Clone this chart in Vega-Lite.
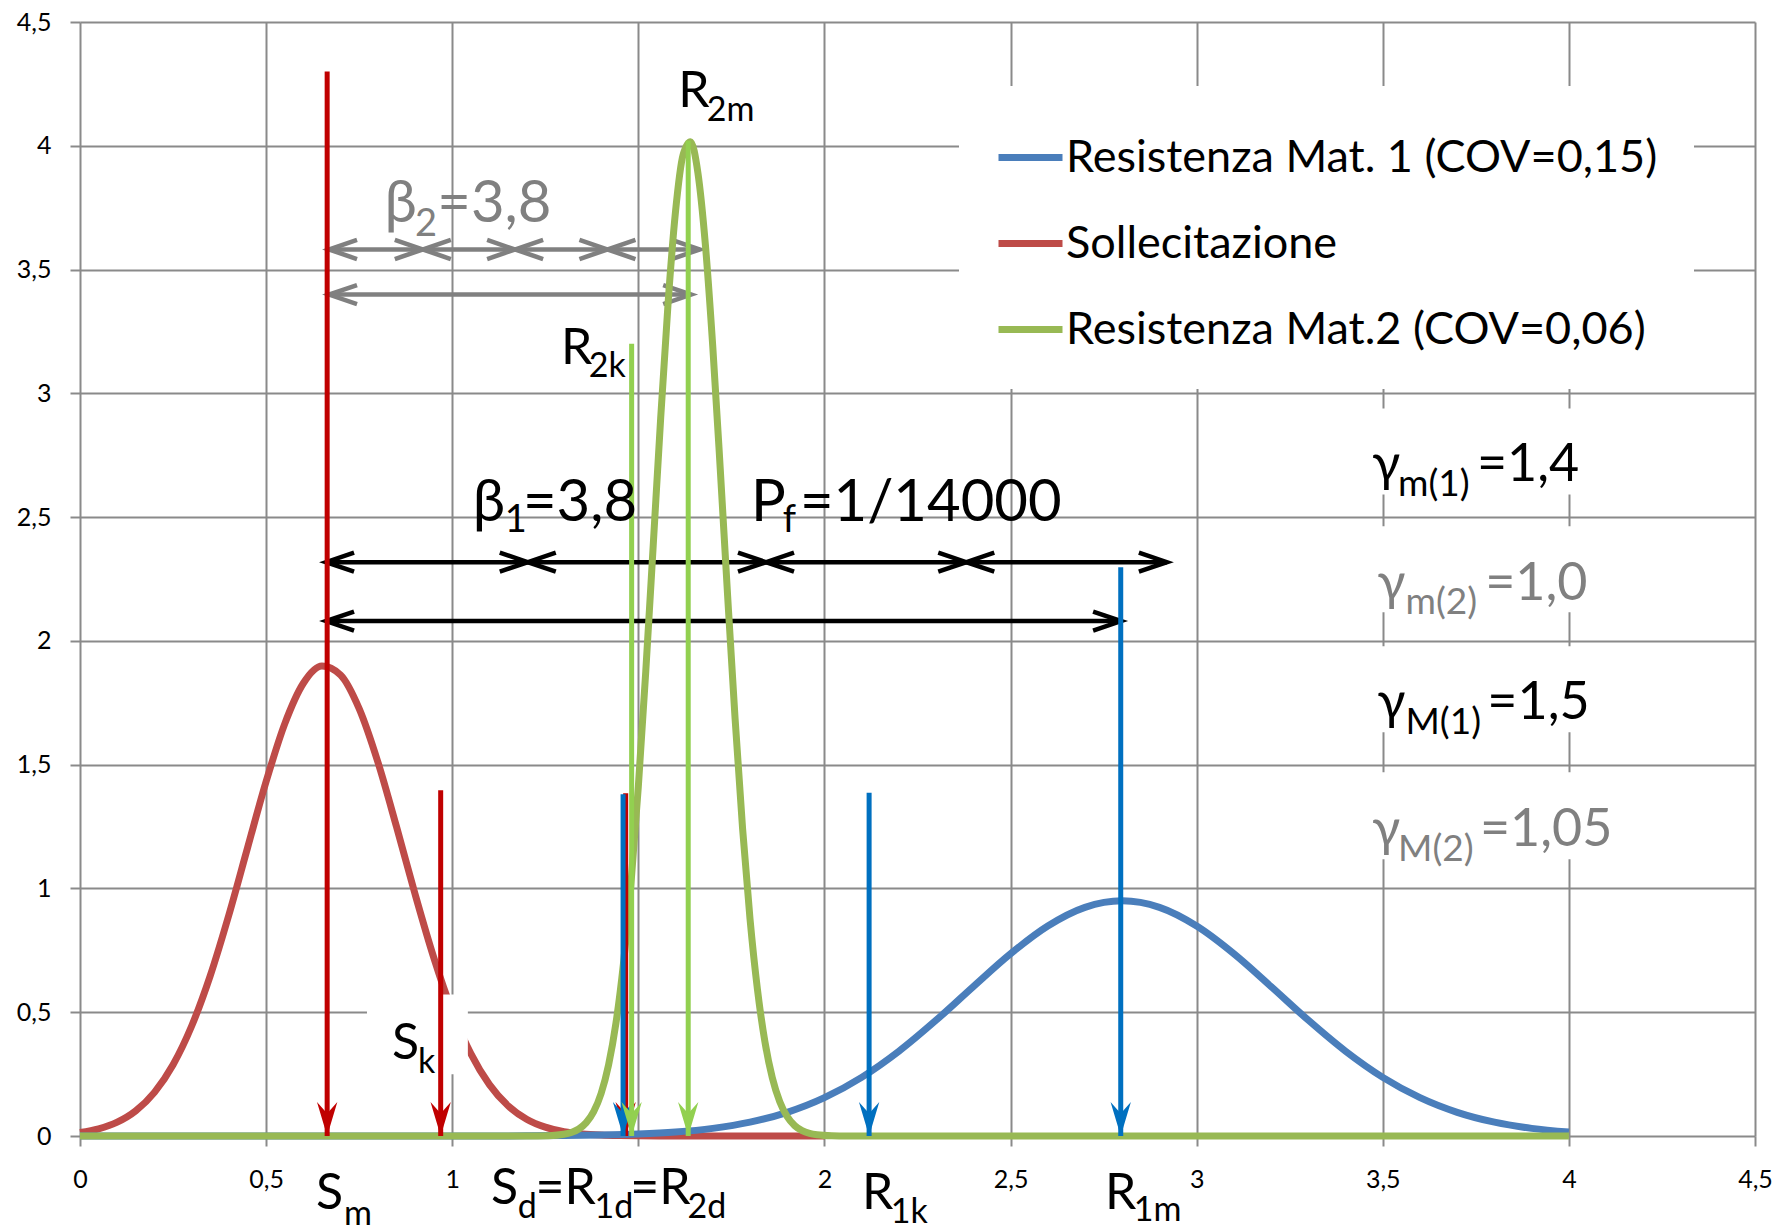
{
  "$schema": "https://vega.github.io/schema/vega-lite/v6.json",
  "width": 1675,
  "height": 1114,
  "autosize": {"type": "none"},
  "padding": {"left": 80, "top": 22, "right": 22, "bottom": 95},
  "background": "white",
  "config": {
    "view": {"stroke": null},
    "font": "Lato, 'Noto Sans', sans-serif",
    "axis": {
      "grid": true, "gridColor": "#8A8A8A", "gridWidth": 2,
      "domain": false, "ticks": true, "tickSize": 10, "tickWidth": 2, "tickColor": "#8A8A8A",
      "labelFont": "Lato", "labelFontSize": 25, "labelColor": "black",
      "labelFlush": false, "labelOverlap": false, "titleOpacity": 0
    },
    "axisX": {"labelPadding": 21},
    "axisY": {"labelPadding": 19}
  },
  "datasets": {
    "curves": [
      {"serie": "Sollecitazione", "x": 0, "y": 0.0140},
      {"serie": "Sollecitazione", "x": 0.05, "y": 0.0287},
      {"serie": "Sollecitazione", "x": 0.1, "y": 0.0557},
      {"serie": "Sollecitazione", "x": 0.15, "y": 0.1019},
      {"serie": "Sollecitazione", "x": 0.2, "y": 0.1762},
      {"serie": "Sollecitazione", "x": 0.25, "y": 0.2879},
      {"serie": "Sollecitazione", "x": 0.3, "y": 0.4443},
      {"serie": "Sollecitazione", "x": 0.35, "y": 0.6479},
      {"serie": "Sollecitazione", "x": 0.4, "y": 0.8932},
      {"serie": "Sollecitazione", "x": 0.45, "y": 1.1634},
      {"serie": "Sollecitazione", "x": 0.5, "y": 1.4317},
      {"serie": "Sollecitazione", "x": 0.55, "y": 1.6648},
      {"serie": "Sollecitazione", "x": 0.6, "y": 1.8289},
      {"serie": "Sollecitazione", "x": 0.65, "y": 1.8987},
      {"serie": "Sollecitazione", "x": 0.7, "y": 1.8624},
      {"serie": "Sollecitazione", "x": 0.75, "y": 1.7262},
      {"serie": "Sollecitazione", "x": 0.8, "y": 1.5118},
      {"serie": "Sollecitazione", "x": 0.85, "y": 1.2510},
      {"serie": "Sollecitazione", "x": 0.9, "y": 0.9781},
      {"serie": "Sollecitazione", "x": 0.95, "y": 0.7226},
      {"serie": "Sollecitazione", "x": 1.0, "y": 0.5044},
      {"serie": "Sollecitazione", "x": 1.05, "y": 0.3327},
      {"serie": "Sollecitazione", "x": 1.1, "y": 0.2075},
      {"serie": "Sollecitazione", "x": 1.15, "y": 0.1221},
      {"serie": "Sollecitazione", "x": 1.2, "y": 0.0680},
      {"serie": "Sollecitazione", "x": 1.25, "y": 0.0357},
      {"serie": "Sollecitazione", "x": 1.3, "y": 0.0178},
      {"serie": "Sollecitazione", "x": 1.35, "y": 0.0083},
      {"serie": "Sollecitazione", "x": 1.4, "y": 0.0037},
      {"serie": "Sollecitazione", "x": 1.45, "y": 0.0016},
      {"serie": "Sollecitazione", "x": 1.5, "y": 0.0006},
      {"serie": "Sollecitazione", "x": 1.6, "y": 0.0001},
      {"serie": "Sollecitazione", "x": 2.0, "y": 0},
      {"serie": "Resistenza Mat. 1 (COV=0,15)", "x": 0, "y": 0},
      {"serie": "Resistenza Mat. 1 (COV=0,15)", "x": 1.0, "y": 0.0001},
      {"serie": "Resistenza Mat. 1 (COV=0,15)", "x": 1.1, "y": 0.0003},
      {"serie": "Resistenza Mat. 1 (COV=0,15)", "x": 1.2, "y": 0.0007},
      {"serie": "Resistenza Mat. 1 (COV=0,15)", "x": 1.3, "y": 0.0016},
      {"serie": "Resistenza Mat. 1 (COV=0,15)", "x": 1.4, "y": 0.0037},
      {"serie": "Resistenza Mat. 1 (COV=0,15)", "x": 1.5, "y": 0.0079},
      {"serie": "Resistenza Mat. 1 (COV=0,15)", "x": 1.6, "y": 0.0160},
      {"serie": "Resistenza Mat. 1 (COV=0,15)", "x": 1.7, "y": 0.0308},
      {"serie": "Resistenza Mat. 1 (COV=0,15)", "x": 1.8, "y": 0.0558},
      {"serie": "Resistenza Mat. 1 (COV=0,15)", "x": 1.9, "y": 0.0957},
      {"serie": "Resistenza Mat. 1 (COV=0,15)", "x": 2.0, "y": 0.1549},
      {"serie": "Resistenza Mat. 1 (COV=0,15)", "x": 2.1, "y": 0.2369},
      {"serie": "Resistenza Mat. 1 (COV=0,15)", "x": 2.2, "y": 0.3424},
      {"serie": "Resistenza Mat. 1 (COV=0,15)", "x": 2.3, "y": 0.4677},
      {"serie": "Resistenza Mat. 1 (COV=0,15)", "x": 2.4, "y": 0.6036},
      {"serie": "Resistenza Mat. 1 (COV=0,15)", "x": 2.5, "y": 0.7361},
      {"serie": "Resistenza Mat. 1 (COV=0,15)", "x": 2.6, "y": 0.8481},
      {"serie": "Resistenza Mat. 1 (COV=0,15)", "x": 2.7, "y": 0.9235},
      {"serie": "Resistenza Mat. 1 (COV=0,15)", "x": 2.8, "y": 0.9499},
      {"serie": "Resistenza Mat. 1 (COV=0,15)", "x": 2.9, "y": 0.9235},
      {"serie": "Resistenza Mat. 1 (COV=0,15)", "x": 3.0, "y": 0.8481},
      {"serie": "Resistenza Mat. 1 (COV=0,15)", "x": 3.1, "y": 0.7361},
      {"serie": "Resistenza Mat. 1 (COV=0,15)", "x": 3.2, "y": 0.6036},
      {"serie": "Resistenza Mat. 1 (COV=0,15)", "x": 3.3, "y": 0.4677},
      {"serie": "Resistenza Mat. 1 (COV=0,15)", "x": 3.4, "y": 0.3424},
      {"serie": "Resistenza Mat. 1 (COV=0,15)", "x": 3.5, "y": 0.2369},
      {"serie": "Resistenza Mat. 1 (COV=0,15)", "x": 3.6, "y": 0.1549},
      {"serie": "Resistenza Mat. 1 (COV=0,15)", "x": 3.7, "y": 0.0957},
      {"serie": "Resistenza Mat. 1 (COV=0,15)", "x": 3.8, "y": 0.0558},
      {"serie": "Resistenza Mat. 1 (COV=0,15)", "x": 3.9, "y": 0.0308},
      {"serie": "Resistenza Mat. 1 (COV=0,15)", "x": 4.0, "y": 0.0160},
      {"serie": "Resistenza Mat.2 (COV=0,06)", "x": 0, "y": 0},
      {"serie": "Resistenza Mat.2 (COV=0,06)", "x": 1.2, "y": 0.0001},
      {"serie": "Resistenza Mat.2 (COV=0,06)", "x": 1.26, "y": 0.0013},
      {"serie": "Resistenza Mat.2 (COV=0,06)", "x": 1.3, "y": 0.0068},
      {"serie": "Resistenza Mat.2 (COV=0,06)", "x": 1.32, "y": 0.0141},
      {"serie": "Resistenza Mat.2 (COV=0,06)", "x": 1.34, "y": 0.0283},
      {"serie": "Resistenza Mat.2 (COV=0,06)", "x": 1.36, "y": 0.0540},
      {"serie": "Resistenza Mat.2 (COV=0,06)", "x": 1.38, "y": 0.0986},
      {"serie": "Resistenza Mat.2 (COV=0,06)", "x": 1.4, "y": 0.1719},
      {"serie": "Resistenza Mat.2 (COV=0,06)", "x": 1.42, "y": 0.2869},
      {"serie": "Resistenza Mat.2 (COV=0,06)", "x": 1.44, "y": 0.4571},
      {"serie": "Resistenza Mat.2 (COV=0,06)", "x": 1.46, "y": 0.6967},
      {"serie": "Resistenza Mat.2 (COV=0,06)", "x": 1.48, "y": 1.0143},
      {"serie": "Resistenza Mat.2 (COV=0,06)", "x": 1.5, "y": 1.4114},
      {"serie": "Resistenza Mat.2 (COV=0,06)", "x": 1.52, "y": 1.8773},
      {"serie": "Resistenza Mat.2 (COV=0,06)", "x": 1.54, "y": 2.3863},
      {"serie": "Resistenza Mat.2 (COV=0,06)", "x": 1.56, "y": 2.8992},
      {"serie": "Resistenza Mat.2 (COV=0,06)", "x": 1.58, "y": 3.3663},
      {"serie": "Resistenza Mat.2 (COV=0,06)", "x": 1.6, "y": 3.7358},
      {"serie": "Resistenza Mat.2 (COV=0,06)", "x": 1.62, "y": 3.9621},
      {"serie": "Resistenza Mat.2 (COV=0,06)", "x": 1.64, "y": 4.0164},
      {"serie": "Resistenza Mat.2 (COV=0,06)", "x": 1.66, "y": 3.8910},
      {"serie": "Resistenza Mat.2 (COV=0,06)", "x": 1.68, "y": 3.6027},
      {"serie": "Resistenza Mat.2 (COV=0,06)", "x": 1.7, "y": 3.1883},
      {"serie": "Resistenza Mat.2 (COV=0,06)", "x": 1.72, "y": 2.6966},
      {"serie": "Resistenza Mat.2 (COV=0,06)", "x": 1.74, "y": 2.1796},
      {"serie": "Resistenza Mat.2 (COV=0,06)", "x": 1.76, "y": 1.6844},
      {"serie": "Resistenza Mat.2 (COV=0,06)", "x": 1.78, "y": 1.2434},
      {"serie": "Resistenza Mat.2 (COV=0,06)", "x": 1.8, "y": 0.8776},
      {"serie": "Resistenza Mat.2 (COV=0,06)", "x": 1.82, "y": 0.5921},
      {"serie": "Resistenza Mat.2 (COV=0,06)", "x": 1.84, "y": 0.3815},
      {"serie": "Resistenza Mat.2 (COV=0,06)", "x": 1.86, "y": 0.2351},
      {"serie": "Resistenza Mat.2 (COV=0,06)", "x": 1.88, "y": 0.1384},
      {"serie": "Resistenza Mat.2 (COV=0,06)", "x": 1.9, "y": 0.0779},
      {"serie": "Resistenza Mat.2 (COV=0,06)", "x": 1.92, "y": 0.0419},
      {"serie": "Resistenza Mat.2 (COV=0,06)", "x": 1.94, "y": 0.0215},
      {"serie": "Resistenza Mat.2 (COV=0,06)", "x": 1.96, "y": 0.0106},
      {"serie": "Resistenza Mat.2 (COV=0,06)", "x": 1.98, "y": 0.0050},
      {"serie": "Resistenza Mat.2 (COV=0,06)", "x": 2.02, "y": 0.0009},
      {"serie": "Resistenza Mat.2 (COV=0,06)", "x": 2.06, "y": 0.0001},
      {"serie": "Resistenza Mat.2 (COV=0,06)", "x": 4.0, "y": 0}
    ],
    "vlines": [
      {"name": "Sm", "serie": "S", "x": 0.664, "y": 4.3},
      {"name": "Sk", "serie": "S", "x": 0.969, "y": 1.397},
      {"name": "Sd", "serie": "S", "x": 1.466, "y": 1.385},
      {"name": "R1d", "serie": "R1", "x": 1.459, "y": 1.38},
      {"name": "R1k", "serie": "R1", "x": 2.12, "y": 1.387},
      {"name": "R1m", "serie": "R1", "x": 2.796, "y": 2.297},
      {"name": "R2k", "serie": "R2", "x": 1.482, "y": 3.2},
      {"name": "R2m", "serie": "R2", "x": 1.634, "y": 4.02}
    ],
    "harrows": [
      {"beta": "1", "x": 0.661, "x2": 1.203, "y": 2.318},
      {"beta": "1", "x": 1.203, "x2": 1.843, "y": 2.318},
      {"beta": "1", "x": 1.843, "x2": 2.381, "y": 2.318},
      {"beta": "1", "x": 2.381, "x2": 2.92, "y": 2.318},
      {"beta": "1", "x": 0.661, "x2": 2.797, "y": 2.08},
      {"beta": "2", "x": 0.669, "x2": 0.921, "y": 3.581},
      {"beta": "2", "x": 0.921, "x2": 1.169, "y": 3.581},
      {"beta": "2", "x": 1.169, "x2": 1.417, "y": 3.581},
      {"beta": "2", "x": 1.417, "x2": 1.665, "y": 3.581},
      {"beta": "2", "x": 0.669, "x2": 1.642, "y": 3.399}
    ],
    "boxes": [
      {"x": 0.771, "x2": 1.042, "y": 0.249, "y2": 0.572},
      {"x": 3.43, "x2": 4.17, "y": 2.591, "y2": 2.939},
      {"x": 3.43, "x2": 4.17, "y": 2.116, "y2": 2.463},
      {"x": 3.43, "x2": 4.17, "y": 1.631, "y2": 1.978},
      {"x": 3.43, "x2": 4.17, "y": 1.118, "y2": 1.469}
    ],
    "labels": [
      {"kind": "lab", "grp": "main", "t": "R", "x": 1.607, "y": 4.158},
      {"kind": "lab", "grp": "main", "t": "R", "x": 1.292, "y": 3.117},
      {"kind": "lab", "grp": "main", "t": "S", "x": 0.838, "y": 0.31},
      {"kind": "lab", "grp": "main", "t": "S", "x": 0.634, "y": -0.296},
      {"kind": "lab", "grp": "main", "t": "S", "x": 1.104, "y": -0.276},
      {"kind": "lab", "grp": "main", "t": "=R", "x": 1.224, "y": -0.276},
      {"kind": "lab", "grp": "main", "t": "=R", "x": 1.478, "y": -0.276},
      {"kind": "lab", "grp": "main", "t": "R", "x": 2.101, "y": -0.296},
      {"kind": "lab", "grp": "main", "t": "R", "x": 2.754, "y": -0.296},
      {"kind": "labsub", "grp": "main", "t": "2m", "x": 1.684, "y": 4.102},
      {"kind": "labsub", "grp": "main", "t": "2k", "x": 1.367, "y": 3.064},
      {"kind": "labsub", "grp": "main", "t": "k", "x": 0.908, "y": 0.253},
      {"kind": "labsub", "grp": "main", "t": "m", "x": 0.709, "y": -0.36},
      {"kind": "labsub", "grp": "main", "t": "d", "x": 1.176, "y": -0.332},
      {"kind": "labsub", "grp": "main", "t": "1d", "x": 1.382, "y": -0.332},
      {"kind": "labsub", "grp": "main", "t": "2d", "x": 1.632, "y": -0.332},
      {"kind": "labsub", "grp": "main", "t": "1k", "x": 2.178, "y": -0.353},
      {"kind": "labsub", "grp": "main", "t": "1m", "x": 2.831, "y": -0.345},
      {"kind": "big", "grp": "mat2", "t": "β", "x": 0.818, "y": 3.694},
      {"kind": "big", "grp": "mat2", "t": "=3,8", "x": 0.96, "y": 3.694},
      {"kind": "big", "grp": "main", "t": "β", "x": 1.055, "y": 2.483},
      {"kind": "big", "grp": "main", "t": "=3,8", "x": 1.19, "y": 2.483},
      {"kind": "big", "grp": "main", "t": "P", "x": 1.803, "y": 2.483},
      {"kind": "big", "grp": "main", "t": "=1/14000", "x": 1.934, "y": 2.483},
      {"kind": "bigsub", "grp": "mat2", "t": "2", "x": 0.9, "y": 3.634},
      {"kind": "bigsub", "grp": "main", "t": "1", "x": 1.141, "y": 2.438},
      {"kind": "bigsub", "grp": "main", "t": "f", "x": 1.888, "y": 2.438},
      {"kind": "gam", "grp": "main", "t": "γ", "x": 3.471, "y": 2.644},
      {"kind": "gam", "grp": "main", "t": "=1,4", "x": 3.753, "y": 2.644},
      {"kind": "gam", "grp": "mat2", "t": "γ", "x": 3.485, "y": 2.167},
      {"kind": "gam", "grp": "mat2", "t": "=1,0", "x": 3.775, "y": 2.167},
      {"kind": "gam", "grp": "main", "t": "γ", "x": 3.485, "y": 1.683},
      {"kind": "gam", "grp": "main", "t": "=1,5", "x": 3.781, "y": 1.683},
      {"kind": "gam", "grp": "mat2", "t": "γ", "x": 3.471, "y": 1.17},
      {"kind": "gam", "grp": "mat2", "t": "=1,05", "x": 3.761, "y": 1.17},
      {"kind": "gamsub", "grp": "main", "t": "m(1)", "x": 3.541, "y": 2.584},
      {"kind": "gamsub", "grp": "mat2", "t": "m(2)", "x": 3.561, "y": 2.107},
      {"kind": "gamsub", "grp": "main", "t": "M(1)", "x": 3.561, "y": 1.623},
      {"kind": "gamsub", "grp": "mat2", "t": "M(2)", "x": 3.541, "y": 1.11}
    ]
  },
  "layer": [
    {
      "data": {"values": [{"x": 0, "y": 0}, {"x": 4.5, "y": 4.5}]},
      "mark": {"type": "point", "opacity": 0},
      "encoding": {
        "x": {
          "field": "x", "type": "quantitative",
          "scale": {"domain": [0, 4.5], "nice": false, "zero": false},
          "axis": {"title": null, "values": [0, 0.5, 1, 1.5, 2, 2.5, 3, 3.5, 4, 4.5], "format": "~g", "labelExpr": "datum.value === 1.5 ? '' : replace(datum.label, '.', ',')"}
        },
        "y": {
          "field": "y", "type": "quantitative",
          "scale": {"domain": [0, 4.5], "nice": false, "zero": false},
          "axis": {"title": null, "values": [0, 0.5, 1, 1.5, 2, 2.5, 3, 3.5, 4, 4.5], "format": "~g", "labelExpr": "replace(datum.label, '.', ',')"}
        }
      }
    },
    {
      "data": {"name": "harrows"},
      "transform": [{"filter": "datum.beta === '1'"}],
      "mark": {"type": "rule", "color": "black", "strokeWidth": 4.5},
      "encoding": {"x": {"field": "x", "type": "quantitative"}, "x2": {"field": "x2"}, "y": {"field": "y", "type": "quantitative"}}
    },
    {
      "data": {"name": "harrows"},
      "transform": [{"filter": "datum.beta === '1'"}],
      "mark": {"type": "point", "shape": "M1,-0.34L0,0L1,0.34", "size": 3136, "filled": false, "color": "black", "strokeWidth": 4.5, "opacity": 1},
      "encoding": {"x": {"field": "x", "type": "quantitative"}, "y": {"field": "y", "type": "quantitative"}}
    },
    {
      "data": {"name": "harrows"},
      "transform": [{"filter": "datum.beta === '1'"}],
      "mark": {"type": "point", "shape": "M-1,-0.34L0,0L-1,0.34", "size": 3136, "filled": false, "color": "black", "strokeWidth": 4.5, "opacity": 1},
      "encoding": {"x": {"field": "x2", "type": "quantitative"}, "y": {"field": "y", "type": "quantitative"}}
    },
    {
      "data": {"name": "harrows"},
      "transform": [{"filter": "datum.beta === '2'"}],
      "mark": {"type": "rule", "color": "#808080", "strokeWidth": 4.5},
      "encoding": {"x": {"field": "x", "type": "quantitative"}, "x2": {"field": "x2"}, "y": {"field": "y", "type": "quantitative"}}
    },
    {
      "data": {"name": "harrows"},
      "transform": [{"filter": "datum.beta === '2'"}],
      "mark": {"type": "point", "shape": "M1,-0.34L0,0L1,0.34", "size": 3136, "filled": false, "color": "#808080", "strokeWidth": 4.5, "opacity": 1},
      "encoding": {"x": {"field": "x", "type": "quantitative"}, "y": {"field": "y", "type": "quantitative"}}
    },
    {
      "data": {"name": "harrows"},
      "transform": [{"filter": "datum.beta === '2'"}],
      "mark": {"type": "point", "shape": "M-1,-0.34L0,0L-1,0.34", "size": 3136, "filled": false, "color": "#808080", "strokeWidth": 4.5, "opacity": 1},
      "encoding": {"x": {"field": "x2", "type": "quantitative"}, "y": {"field": "y", "type": "quantitative"}}
    },
    {
      "data": {"name": "curves"},
      "transform": [{"filter": "datum.serie === 'Sollecitazione'"}],
      "mark": {"type": "line", "strokeWidth": 7, "interpolate": "monotone"},
      "encoding": {
        "x": {"field": "x", "type": "quantitative"}, "y": {"field": "y", "type": "quantitative"},
        "color": {
          "field": "serie", "type": "nominal",
          "scale": {"domain": ["Resistenza Mat. 1 (COV=0,15)", "Sollecitazione", "Resistenza Mat.2 (COV=0,06)"], "range": ["#4A7EBB", "#BE4B48", "#98B954"]},
          "legend": {"title": null, "orient": "none", "legendX": 879, "legendY": 64, "fillColor": "white", "padding": 36, "symbolType": "stroke", "symbolSize": 4096, "symbolStrokeWidth": 7, "labelFont": "Lato", "labelFontSize": 45, "labelColor": "black", "labelLimit": 0, "rowPadding": 27, "labelOffset": 0}
        }
      }
    },
    {
      "data": {"name": "boxes"},
      "mark": {"type": "rect", "color": "white", "opacity": 1},
      "encoding": {"x": {"field": "x", "type": "quantitative"}, "x2": {"field": "x2"}, "y": {"field": "y", "type": "quantitative"}, "y2": {"field": "y2"}}
    },
    {
      "data": {"name": "curves"},
      "transform": [{"filter": "datum.serie === 'Resistenza Mat. 1 (COV=0,15)'"}],
      "mark": {"type": "line", "strokeWidth": 7, "interpolate": "monotone"},
      "encoding": {
        "x": {"field": "x", "type": "quantitative"}, "y": {"field": "y", "type": "quantitative"},
        "color": {
          "field": "serie", "type": "nominal",
          "scale": {"domain": ["Resistenza Mat. 1 (COV=0,15)", "Sollecitazione", "Resistenza Mat.2 (COV=0,06)"], "range": ["#4A7EBB", "#BE4B48", "#98B954"]},
          "legend": {"title": null, "orient": "none", "legendX": 879, "legendY": 64, "fillColor": "white", "padding": 36, "symbolType": "stroke", "symbolSize": 4096, "symbolStrokeWidth": 7, "labelFont": "Lato", "labelFontSize": 45, "labelColor": "black", "labelLimit": 0, "rowPadding": 27, "labelOffset": 0}
        }
      }
    },
    {
      "data": {"name": "curves"},
      "transform": [{"filter": "datum.serie === 'Resistenza Mat.2 (COV=0,06)'"}],
      "mark": {"type": "line", "strokeWidth": 7, "interpolate": "monotone"},
      "encoding": {
        "x": {"field": "x", "type": "quantitative"}, "y": {"field": "y", "type": "quantitative"},
        "color": {
          "field": "serie", "type": "nominal",
          "scale": {"domain": ["Resistenza Mat. 1 (COV=0,15)", "Sollecitazione", "Resistenza Mat.2 (COV=0,06)"], "range": ["#4A7EBB", "#BE4B48", "#98B954"]},
          "legend": {"title": null, "orient": "none", "legendX": 879, "legendY": 64, "fillColor": "white", "padding": 36, "symbolType": "stroke", "symbolSize": 4096, "symbolStrokeWidth": 7, "labelFont": "Lato", "labelFontSize": 45, "labelColor": "black", "labelLimit": 0, "rowPadding": 27, "labelOffset": 0}
        }
      }
    },
    {
      "data": {"name": "vlines"},
      "transform": [{"filter": "datum.serie === 'S'"}],
      "mark": {"type": "rule", "color": "#C00000", "strokeWidth": 5},
      "encoding": {"x": {"field": "x", "type": "quantitative"}, "y": {"field": "y", "type": "quantitative"}, "y2": {"datum": 0}}
    },
    {
      "data": {"name": "vlines"},
      "transform": [{"filter": "datum.serie === 'S'"}],
      "mark": {"type": "point", "shape": "M0,0L-0.3,-1L0,-0.66L0.3,-1Z", "size": 4600, "filled": true, "color": "#C00000", "opacity": 1},
      "encoding": {"x": {"field": "x", "type": "quantitative"}, "y": {"datum": 0, "type": "quantitative"}}
    },
    {
      "data": {"name": "vlines"},
      "transform": [{"filter": "datum.serie === 'R1'"}],
      "mark": {"type": "rule", "color": "#0070C0", "strokeWidth": 5},
      "encoding": {"x": {"field": "x", "type": "quantitative"}, "y": {"field": "y", "type": "quantitative"}, "y2": {"datum": 0}}
    },
    {
      "data": {"name": "vlines"},
      "transform": [{"filter": "datum.serie === 'R1'"}],
      "mark": {"type": "point", "shape": "M0,0L-0.3,-1L0,-0.66L0.3,-1Z", "size": 4600, "filled": true, "color": "#0070C0", "opacity": 1},
      "encoding": {"x": {"field": "x", "type": "quantitative"}, "y": {"datum": 0, "type": "quantitative"}}
    },
    {
      "data": {"name": "vlines"},
      "transform": [{"filter": "datum.serie === 'R2'"}],
      "mark": {"type": "rule", "color": "#92D050", "strokeWidth": 5},
      "encoding": {"x": {"field": "x", "type": "quantitative"}, "y": {"field": "y", "type": "quantitative"}, "y2": {"datum": 0}}
    },
    {
      "data": {"name": "vlines"},
      "transform": [{"filter": "datum.serie === 'R2'"}],
      "mark": {"type": "point", "shape": "M0,0L-0.3,-1L0,-0.66L0.3,-1Z", "size": 4600, "filled": true, "color": "#92D050", "opacity": 1},
      "encoding": {"x": {"field": "x", "type": "quantitative"}, "y": {"datum": 0, "type": "quantitative"}}
    },
    {
      "data": {"name": "labels"},
      "transform": [{"filter": "datum.kind === 'lab'"}],
      "mark": {"type": "text", "align": "left", "baseline": "alphabetic", "font": "Lato, 'Noto Sans', sans-serif", "fontSize": 50},
      "encoding": {"x": {"field": "x", "type": "quantitative"}, "y": {"field": "y", "type": "quantitative"}, "text": {"field": "t"}, "color": {"condition": {"test": "datum.grp === 'mat2'", "value": "#808080"}, "value": "black"}}
    },
    {
      "data": {"name": "labels"},
      "transform": [{"filter": "datum.kind === 'labsub'"}],
      "mark": {"type": "text", "align": "left", "baseline": "alphabetic", "font": "Lato, 'Noto Sans', sans-serif", "fontSize": 34},
      "encoding": {"x": {"field": "x", "type": "quantitative"}, "y": {"field": "y", "type": "quantitative"}, "text": {"field": "t"}, "color": {"condition": {"test": "datum.grp === 'mat2'", "value": "#808080"}, "value": "black"}}
    },
    {
      "data": {"name": "labels"},
      "transform": [{"filter": "datum.kind === 'big'"}],
      "mark": {"type": "text", "align": "left", "baseline": "alphabetic", "font": "Lato, 'Noto Sans', sans-serif", "fontSize": 58},
      "encoding": {"x": {"field": "x", "type": "quantitative"}, "y": {"field": "y", "type": "quantitative"}, "text": {"field": "t"}, "color": {"condition": {"test": "datum.grp === 'mat2'", "value": "#808080"}, "value": "black"}}
    },
    {
      "data": {"name": "labels"},
      "transform": [{"filter": "datum.kind === 'bigsub'"}],
      "mark": {"type": "text", "align": "left", "baseline": "alphabetic", "font": "Lato, 'Noto Sans', sans-serif", "fontSize": 38},
      "encoding": {"x": {"field": "x", "type": "quantitative"}, "y": {"field": "y", "type": "quantitative"}, "text": {"field": "t"}, "color": {"condition": {"test": "datum.grp === 'mat2'", "value": "#808080"}, "value": "black"}}
    },
    {
      "data": {"name": "labels"},
      "transform": [{"filter": "datum.kind === 'gam'"}],
      "mark": {"type": "text", "align": "left", "baseline": "alphabetic", "font": "Lato, 'Noto Sans', sans-serif", "fontSize": 52},
      "encoding": {"x": {"field": "x", "type": "quantitative"}, "y": {"field": "y", "type": "quantitative"}, "text": {"field": "t"}, "color": {"condition": {"test": "datum.grp === 'mat2'", "value": "#808080"}, "value": "black"}}
    },
    {
      "data": {"name": "labels"},
      "transform": [{"filter": "datum.kind === 'gamsub'"}],
      "mark": {"type": "text", "align": "left", "baseline": "alphabetic", "font": "Lato, 'Noto Sans', sans-serif", "fontSize": 37},
      "encoding": {"x": {"field": "x", "type": "quantitative"}, "y": {"field": "y", "type": "quantitative"}, "text": {"field": "t"}, "color": {"condition": {"test": "datum.grp === 'mat2'", "value": "#808080"}, "value": "black"}}
    }
  ]
}
